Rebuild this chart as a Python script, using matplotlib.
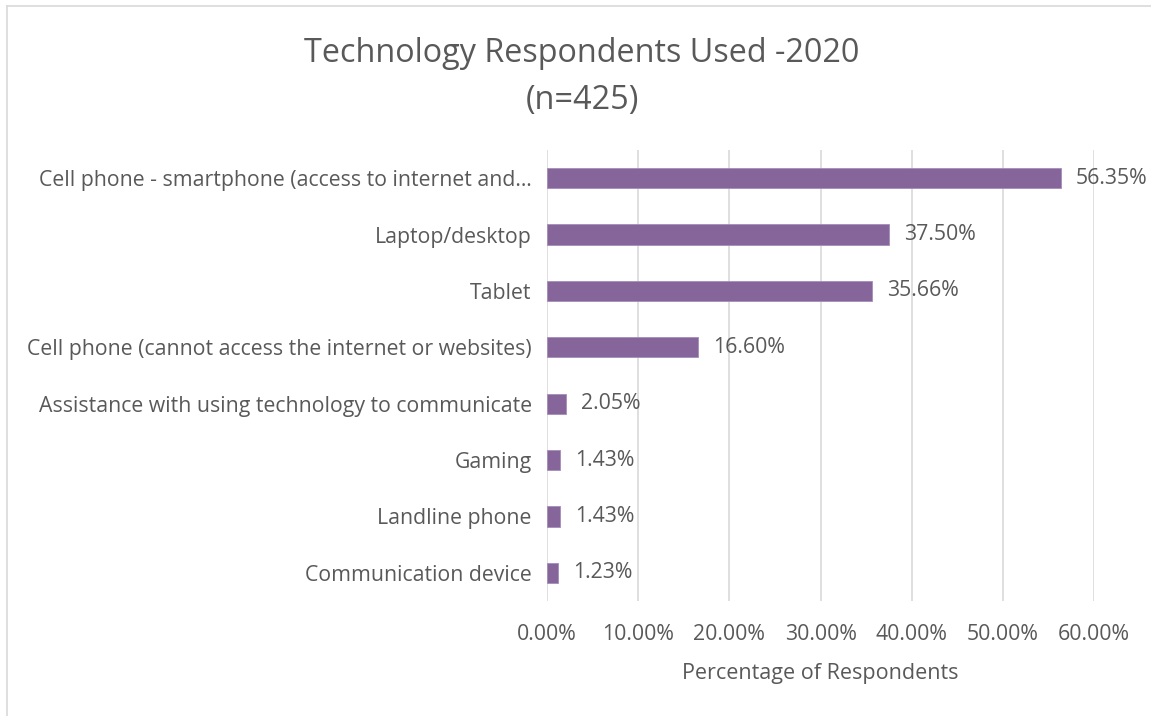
import matplotlib
matplotlib.use("Agg")
import matplotlib.pyplot as plt
from matplotlib.lines import Line2D
from matplotlib.ticker import FuncFormatter, MultipleLocator

categories = [
    "Cell phone - smartphone (access to internet and\u2026",
    "Laptop/desktop",
    "Tablet",
    "Cell phone (cannot access the internet or websites)",
    "Assistance with using technology to communicate",
    "Gaming",
    "Landline phone",
    "Communication device",
]
values = [56.35, 37.50, 35.66, 16.60, 2.05, 1.43, 1.43, 1.23]

title = "Technology Respondents Used -2020\n(n=425)"
xlabel = "Percentage of Respondents"

text_color = "#595959"
bar_color = "#85659A"
grid_color = "#D9D9D9"
font = ["Open Sans", "DejaVu Sans"]

plt.rcParams["font.family"] = font

fig = plt.figure(figsize=(11.51, 7.16), dpi=100)
ax = fig.add_axes([547 / 1151, 1 - 601 / 716, (1094 - 547) / 1151, (601 - 150) / 716])

pos = list(range(len(categories)))
ax.barh(pos, values, height=0.36, color=bar_color, edgecolor="#A58DB8", linewidth=0.6, zorder=3)
ax.set_ylim(len(categories) - 0.5, -0.5)
ax.set_xlim(0, 60)
ax.xaxis.set_major_locator(MultipleLocator(10))
ax.xaxis.set_major_formatter(FuncFormatter(lambda v, _: f"{v:.2f}%"))
ax.set_yticks(pos)
ax.set_yticklabels(categories)
ax.tick_params(axis="both", length=0, labelsize=15.3, labelcolor=text_color)
ax.tick_params(axis="y", pad=11)
ax.tick_params(axis="x", pad=16.5)
ax.grid(axis="x", color=grid_color, linewidth=1.2, zorder=0)
for s in ax.spines.values():
    s.set_visible(False)

for p, v in zip(pos, values):
    ax.annotate(f"{v:.2f}%", (v, p), xytext=(11, 0), textcoords="offset points",
                va="center", ha="left", fontsize=15.3, color=text_color)

ax.set_xlabel(xlabel, fontsize=15.5, color=text_color, labelpad=13)
fig.text(582 / 1151, 1 - 77 / 716, title, ha="center", va="center",
         fontsize=23.3, color=text_color, linespacing=1.55)

# chart frame
fig.add_artist(Line2D([6.5 / 1151, 6.5 / 1151], [0, 1 - 6 / 716], color="#D9D9D9", lw=1.2, transform=fig.transFigure))
fig.add_artist(Line2D([6.5 / 1151, 1], [1 - 6 / 716, 1 - 6 / 716], color="#D9D9D9", lw=1.2, transform=fig.transFigure))

fig.savefig("out.png", dpi=100)
